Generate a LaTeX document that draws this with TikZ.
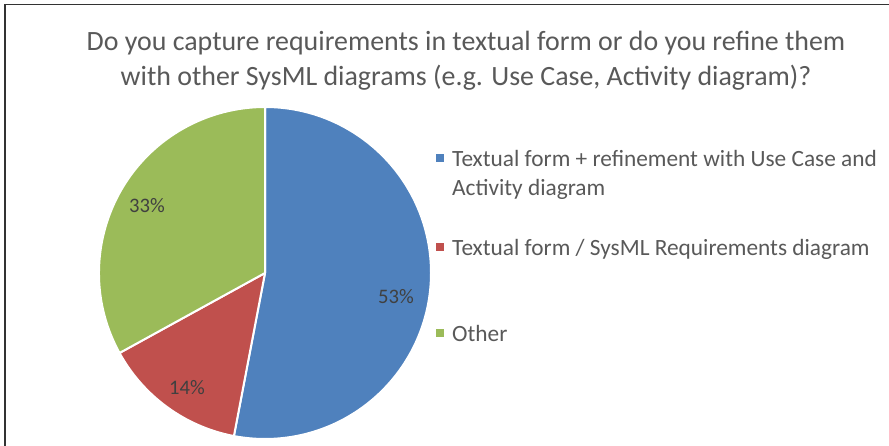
\documentclass[tikz,border=0pt]{standalone}
\usepackage{fontspec}
\setmainfont{Carlito}
\definecolor{pieblue}{HTML}{4F81BD}
\definecolor{piered}{HTML}{C0504D}
\definecolor{piegreen}{HTML}{9BBB59}
\definecolor{txtgray}{HTML}{595959}
\definecolor{lblgray}{HTML}{404040}
\begin{document}
\begin{tikzpicture}[x=1bp,y=-1bp,
  slice/.style={draw=white,line width=2bp,line join=round},
  pct/.style={text=lblgray,font=\fontsize{20.7}{24}\selectfont,inner sep=0pt},
  legtext/.style={text=txtgray,font=\fontsize{23.4}{26}\selectfont,inner sep=0pt,anchor=base west},
  legmark/.style={minimum size=8bp,inner sep=0pt},
  ttl/.style={text=txtgray,font=\fontsize{28}{32}\selectfont,inner sep=0pt,anchor=base}]
\useasboundingbox (0,0) rectangle (889,446);
\fill[white] (0,0) rectangle (889,446);
\draw[line width=1.5bp,black!80] (5,446) -- (5,4.5) -- (889,4.5);
% title
\node[ttl] (t1) at (466,51) {Do you capture requirements in textual form or do you refine them};
\node[ttl] (t2) at (466,86) {with other SysML diagrams (e.g. Use Case, Activity diagram)?};
% pie
\coordinate (c) at (265,273);
\fill[pieblue,slice] (c) -- ++(-90:166) arc[start angle=-90,end angle=100.8,radius=166] -- cycle;
\fill[piered,slice] (c) -- ++(100.8:166) arc[start angle=100.8,end angle=151.2,radius=166] -- cycle;
\fill[piegreen,slice] (c) -- ++(151.2:166) arc[start angle=151.2,end angle=270,radius=166] -- cycle;
\node[pct] (p53) at (396,297) {53\%};
\node[pct] (p14) at (187,388) {14\%};
\node[pct] (p33) at (147,206) {33\%};
% legend
\node[legmark,fill=pieblue] (m1) at (440,158) {};
\node[legtext] (l1a) at (452,166.5) {Textual form + refinement with Use Case and};
\node[legtext] (l1b) at (452,195.5) {Activity diagram};
\node[legmark,fill=piered] (m2) at (440,247) {};
\node[legtext] (l2) at (452,255.5) {Textual form / SysML Requirements diagram};
\node[legmark,fill=piegreen] (m3) at (440,333) {};
\node[legtext] (l3) at (452,341.5) {Other};
\end{tikzpicture}
\end{document}
